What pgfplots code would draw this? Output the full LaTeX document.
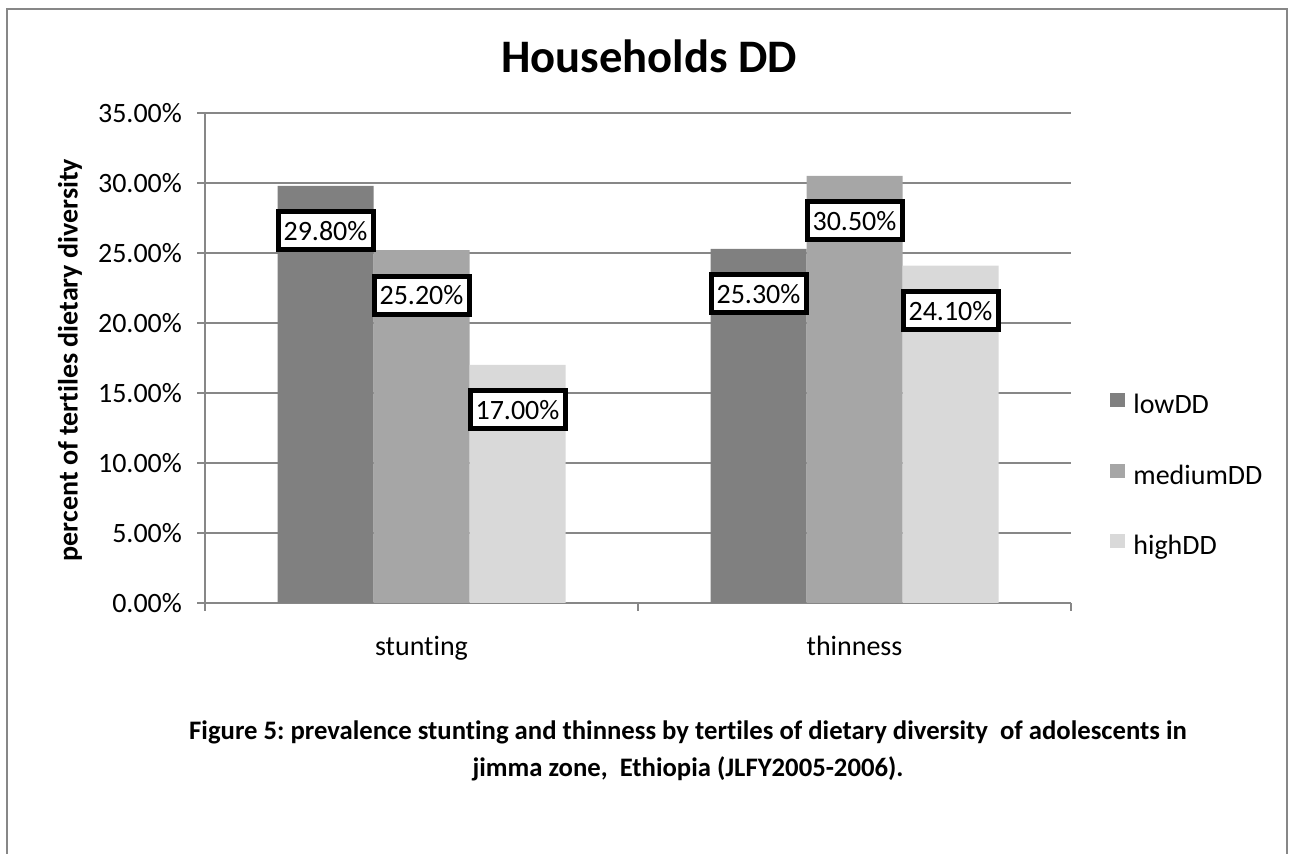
\documentclass[border=0pt]{standalone}
\usepackage{fontspec}
\setmainfont{Carlito}[Ligatures=NoCommon]
\usepackage{pgfplots}
\usepackage{pgfplotstable}
\pgfplotsset{compat=1.18}
\frenchspacing
\definecolor{gridgray}{HTML}{878787}
\definecolor{lowc}{HTML}{808080}
\definecolor{medc}{HTML}{A6A6A6}
\definecolor{highc}{HTML}{D9D9D9}
\newcommand{\cf}{\fontsize{14pt}{17pt}\selectfont}
\pgfplotsset{/pgfplots/ybar legend/.style={/pgfplots/legend image code/.code={\fill[##1,draw=none] (0pt,0pt) rectangle (7.5pt,7pt);}}}
\pgfplotstableread{
x low med high
0 29.8 25.2 17.0
1 25.3 30.5 24.1
}\datatable
\begin{document}
\begin{tikzpicture}
\useasboundingbox (0,0) rectangle (644.5pt,427pt);
\draw[gridgray, line width=1.2pt] (3.5pt,0pt) -- (3.5pt,422.5pt) -- (643.5pt,422.5pt) -- (643.5pt,0pt);
\node[anchor=base, font=\fontsize{23.3pt}{27pt}\selectfont\bfseries] at (324.5pt,390.5pt) {Households DD};
\node[rotate=90, font=\cf\bfseries] at (35pt,247pt) {percent of tertiles dietary diversity};
\node[anchor=base, font=\fontsize{13.35pt}{16pt}\selectfont\bfseries] at (344pt,57pt) {Figure 5: prevalence stunting and thinness by tertiles of dietary diversity\ \ of adolescents in};
\node[anchor=base, font=\fontsize{13.35pt}{16pt}\selectfont\bfseries] at (344pt,38.5pt) {jimma zone,\ \ Ethiopia (JLFY2005-2006).};
\begin{axis}[
  at={(102.5pt,125.5pt)}, anchor=south west,
  scale only axis, width=433pt, height=245pt,
  xmin=-0.5, xmax=1.5, ymin=0, ymax=35,
  ybar=0pt, bar width=0.2217,
  axis x line*=bottom, axis y line*=left,
  axis line style={gridgray, line width=1pt},
  ymajorgrids, grid style={gridgray, line width=1pt},
  tick align=outside, major tick length=4pt,
  tick style={gridgray, line width=1pt},
  xtick={-0.5,0.5,1.5}, xticklabels={},
  extra x ticks={0,1}, extra x tick labels={stunting,thinness},
  extra x tick style={major tick length=0pt, grid=none, tick label style={anchor=base, yshift=-26.5pt}},
  ytick={0,5,...,35},
  yticklabel={\pgfmathprintnumber[fixed,fixed zerofill,precision=2]{\tick}\%},
  /pgf/number format/assume math mode=true,
  tick label style={font=\cf, text=black},
  yticklabel style={xshift=-4pt},
  legend style={at={(1,0.257)}, anchor=west, xshift=19.5pt, draw=none, fill=none, inner sep=0pt,
    font=\cf, row sep=22pt, /tikz/column sep=4pt,
    nodes={inner sep=0pt, text height=9.5pt, text depth=3pt}},
  legend cell align=left,
  every node near coord/.append style={anchor=center, yshift=-22.5pt, draw=black, line width=2.5pt,
    fill=white, inner sep=0pt, minimum width=47.5pt, minimum height=19pt, font=\cf, text=black},
]
\addplot[fill=lowc, draw=none, bar shift=-0.2217] table[x=x,y=low] {\datatable};
\addplot[fill=medc, draw=none, bar shift=0] table[x=x,y=med] {\datatable};
\addplot[fill=highc, draw=none, bar shift=0.2217] table[x=x,y=high] {\datatable};
\legend{lowDD,mediumDD,highDD}
\addplot[draw=none, fill=none, bar shift=-0.2217, forget plot,
  nodes near coords={\pgfmathprintnumber[fixed,fixed zerofill,precision=2]{\pgfplotspointmeta}\%}] table[x=x,y=low] {\datatable};
\addplot[draw=none, fill=none, bar shift=0, forget plot,
  nodes near coords={\pgfmathprintnumber[fixed,fixed zerofill,precision=2]{\pgfplotspointmeta}\%}] table[x=x,y=med] {\datatable};
\addplot[draw=none, fill=none, bar shift=0.2217, forget plot,
  nodes near coords={\pgfmathprintnumber[fixed,fixed zerofill,precision=2]{\pgfplotspointmeta}\%}] table[x=x,y=high] {\datatable};
\end{axis}
\end{tikzpicture}
\end{document}
